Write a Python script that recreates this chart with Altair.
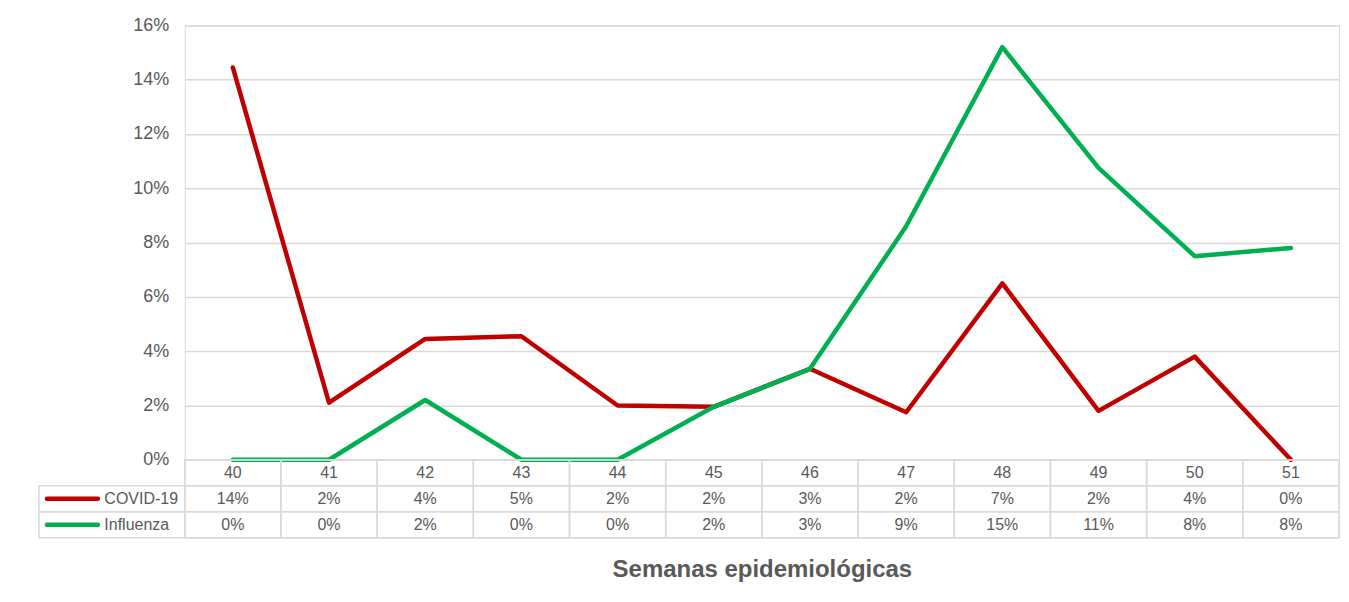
import altair as alt
import pandas as pd

weeks = ["40", "41", "42", "43", "44", "45", "46", "47", "48", "49", "50", "51"]
series = ["COVID-19", "Influenza"]
colors = ["#C00000", "#00B050"]

covid = [0.1445, 0.021, 0.0445, 0.0455, 0.020, 0.0195, 0.0335, 0.0175, 0.065, 0.018, 0.038, 0.0]
flu = [0.0, 0.0, 0.022, 0.0, 0.0, 0.0195, 0.0335, 0.086, 0.152, 0.1075, 0.075, 0.078]

covid_labels = ["14%", "2%", "4%", "5%", "2%", "2%", "3%", "2%", "7%", "2%", "4%", "0%"]
flu_labels = ["0%", "0%", "2%", "0%", "0%", "2%", "3%", "9%", "15%", "11%", "8%", "8%"]

y_ticks = [0, 0.02, 0.04, 0.06, 0.08, 0.10, 0.12, 0.14, 0.16]
header_row = "Semana"
rows = [header_row] + series
x_title = "Semanas epidemiológicas"

GRAY = "#595959"
GRID = "#d9d9d9"
FONT = "Liberation Sans"

line_df = pd.DataFrame({
    "week": weeks * 2,
    "series": [series[0]] * len(weeks) + [series[1]] * len(weeks),
    "value": covid + flu,
})

table_df = pd.DataFrame({
    "week": weeks * 3,
    "row": [header_row] * len(weeks) + [series[0]] * len(weeks) + [series[1]] * len(weeks),
    "label": weeks + covid_labels + flu_labels,
})

legend_df = pd.DataFrame({"row": series, "series": series})

W = 1156

top = alt.Chart(line_df).mark_line(
    strokeWidth=4.5, strokeJoin="round", strokeCap="round"
).encode(
    x=alt.X("week:O", scale=alt.Scale(type="point", domain=weeks, padding=0.5), axis=None),
    y=alt.Y(
        "value:Q",
        scale=alt.Scale(domain=[0, 0.16], nice=False),
        axis=alt.Axis(
            values=y_ticks, format=".0%", title=None, grid=True, gridColor=GRID,
            gridWidth=1.5, domain=False, ticks=False, labelPadding=16,
            labelFontSize=18, labelColor=GRAY, labelFont=FONT,
        ),
    ),
    color=alt.Color("series:N", scale=alt.Scale(domain=series, range=colors), legend=None),
).properties(width=W, height=435)

x_tab = alt.X(
    "week:O",
    scale=alt.Scale(type="band", domain=weeks, paddingInner=0, paddingOuter=0),
    axis=alt.Axis(
        title=x_title, labels=False, ticks=False, domain=False, grid=False,
        titleFontSize=24, titleFontWeight="bold", titleColor=GRAY, titlePadding=20,
        titleFont=FONT,
    ),
)
y_tab = alt.Y(
    "row:N",
    scale=alt.Scale(type="band", domain=rows, paddingInner=0, paddingOuter=0),
    axis=alt.Axis(
        title=None, labelAlign="left", labelPadding=81, ticks=False, domain=False,
        grid=False, labelFontSize=16, labelColor=GRAY, labelFont=FONT,
        labelExpr="datum.value == 'Semana' ? '' : datum.value",
    ),
)

cells = alt.Chart(table_df).mark_rect(
    fill="white", fillOpacity=0, stroke=GRID, strokeWidth=1.5
).encode(x=x_tab, y=y_tab)

cell_text = alt.Chart(table_df).mark_text(
    fontSize=16, color=GRAY, font=FONT
).encode(x=x_tab, y=y_tab, text="label:N")

legend_cells = alt.Chart(legend_df).mark_rect(
    fill="white", fillOpacity=0, stroke=GRID, strokeWidth=1.5
).encode(x=alt.value(-146), x2=alt.value(0), y=y_tab)

swatches = alt.Chart(legend_df).mark_rule(
    strokeWidth=4.5, strokeCap="round"
).encode(
    x=alt.value(-138), x2=alt.value(-87), y=y_tab,
    color=alt.Color("series:N", scale=alt.Scale(domain=series, range=colors), legend=None),
)

bottom = alt.layer(cells, legend_cells, swatches, cell_text).properties(width=W, height=78)

chart = alt.vconcat(top, bottom, spacing=0, bounds="flush").properties(
    padding={"left": 29, "top": 7, "right": 0, "bottom": 0}
).configure_view(stroke=None).configure(font=FONT)

chart.save("out.html", embed_options={"renderer": "svg", "actions": False})
